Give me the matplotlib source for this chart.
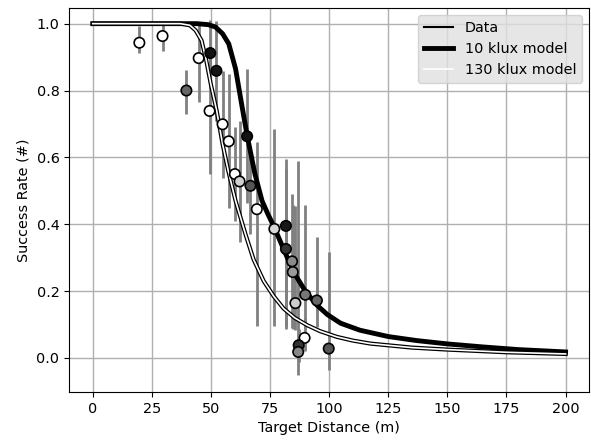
import numpy as np
import matplotlib as mpl
mpl.use('Agg')
import matplotlib.pyplot as plt

mpl.rcParams['font.size'] = 10.4
mpl.rcParams['legend.fontsize'] = 10.4

# measured success rates
dist = [19.7, 29.5, 39.6, 44.8, 49.7, 52.3, 49.4, 54.9, 57.5, 65.3, 60.1, 62.1, 66.7,
        69.4, 76.8, 81.7, 81.7, 84.3, 84.6, 85.7, 89.9, 94.8, 89.6, 87.1, 86.9, 99.8]
rate = [0.943, 0.963, 0.80, 0.897, 0.912, 0.859, 0.739, 0.699, 0.648, 0.663, 0.55, 0.528, 0.515,
        0.445, 0.386, 0.395, 0.326, 0.289, 0.257, 0.164, 0.189, 0.172, 0.06, 0.038, 0.018, 0.028]
err_lo = [0.03, 0.045, 0.07, 0.13, 0.10, 0.15, 0.19, 0.16, 0.2, 0.2, 0.14, 0.18, 0.145,
          0.35, 0.29, 0.3, 0.24, 0.2, 0.17, 0.08, 0.1, 0.08, 0.04, 0.05, 0.07, 0.065]
err_hi = [0.05, 0.04, 0.06, 0.10, 0.10, 0.15, 0.19, 0.16, 0.2, 0.2, 0.14, 0.18, 0.12,
          0.2, 0.3, 0.2, 0.24, 0.2, 0.2, 0.29, 0.27, 0.19, 0.06, 0.05, 0.57, 0.29]
shade = ['white', 'white', '#666666', 'white', '#111111', '#151515', 'white', 'white', 'white',
         '#121212', 'white', '#d0d0d0', '#555555', 'white', '#d8d8d8', '#181818', '#333333',
         '#8a8a8a', '#9a9a9a', '#cccccc', '#777777', '#666666', 'white', '#333333', '#888888', '#555555']

# 10 klux model
m10_x = [0, 44, 48.9, 51.9, 54.9, 57.5, 60.4, 62.7, 65.3, 68.6, 71.6, 74.1, 76.5, 80.7, 82.9,
         86.4, 89.9, 94.8, 99.2, 104.8, 113, 125, 137, 150, 165, 180, 200]
m10_y = [1.0, 1.0, 0.997, 0.99, 0.97, 0.94, 0.865, 0.77, 0.665, 0.55, 0.47, 0.43, 0.395,
         0.326, 0.29, 0.24, 0.2, 0.158, 0.13, 0.104, 0.083, 0.064, 0.052, 0.042, 0.033, 0.025, 0.018]

# 130 klux model
m130_x = [0, 37.1, 41.1, 43.5, 46, 48, 49.9, 52.4, 54.9, 57.3, 60.4, 64.6, 68, 72.3, 76.5,
          80.7, 85.4, 90.7, 96.2, 103.3, 110, 117.4, 135, 150, 175, 200]
m130_y = [1.0, 1.0, 0.995, 0.98, 0.95, 0.89, 0.82, 0.74, 0.64, 0.56, 0.47, 0.37, 0.295,
          0.23, 0.185, 0.148, 0.12, 0.098, 0.08, 0.063, 0.052, 0.043, 0.031, 0.025, 0.017, 0.012]

fig = plt.figure(figsize=(5.91, 4.42), dpi=100)
ax = fig.add_axes([0.117, 0.113, 0.880, 0.869])

ax.errorbar(dist, rate, yerr=[err_lo, err_hi], fmt='none', ecolor='gray', elinewidth=2, zorder=2)

ax.plot([], [], color='k', lw=1.5, label='Data')
ax.plot(m10_x, m10_y, color='k', lw=3.5, label='10 klux model', zorder=3)
ax.plot(m130_x, m130_y, color='k', lw=3.0, zorder=3)
ax.plot(m130_x, m130_y, color='white', lw=1.2, label='130 klux model', zorder=3)

ax.scatter(dist, rate, s=56, c=shade, edgecolors='k', linewidths=1.2, zorder=4)

ax.grid(True, color='#b0b0b0', lw=1)
ax.set_axisbelow(True)
ax.set_xticks(np.arange(0, 201, 25))
ax.set_yticks(np.arange(0, 1.01, 0.2))
ax.set_xlim(-10, 210)
ax.set_ylim(-0.102, 1.047)
ax.set_xlabel('Target Distance (m)')
ax.set_ylabel('Success Rate (#)')

leg = ax.legend(loc='upper right', facecolor='#e0e0e0', edgecolor='#cccccc', framealpha=0.8)

fig.savefig('out.png', dpi=100)
